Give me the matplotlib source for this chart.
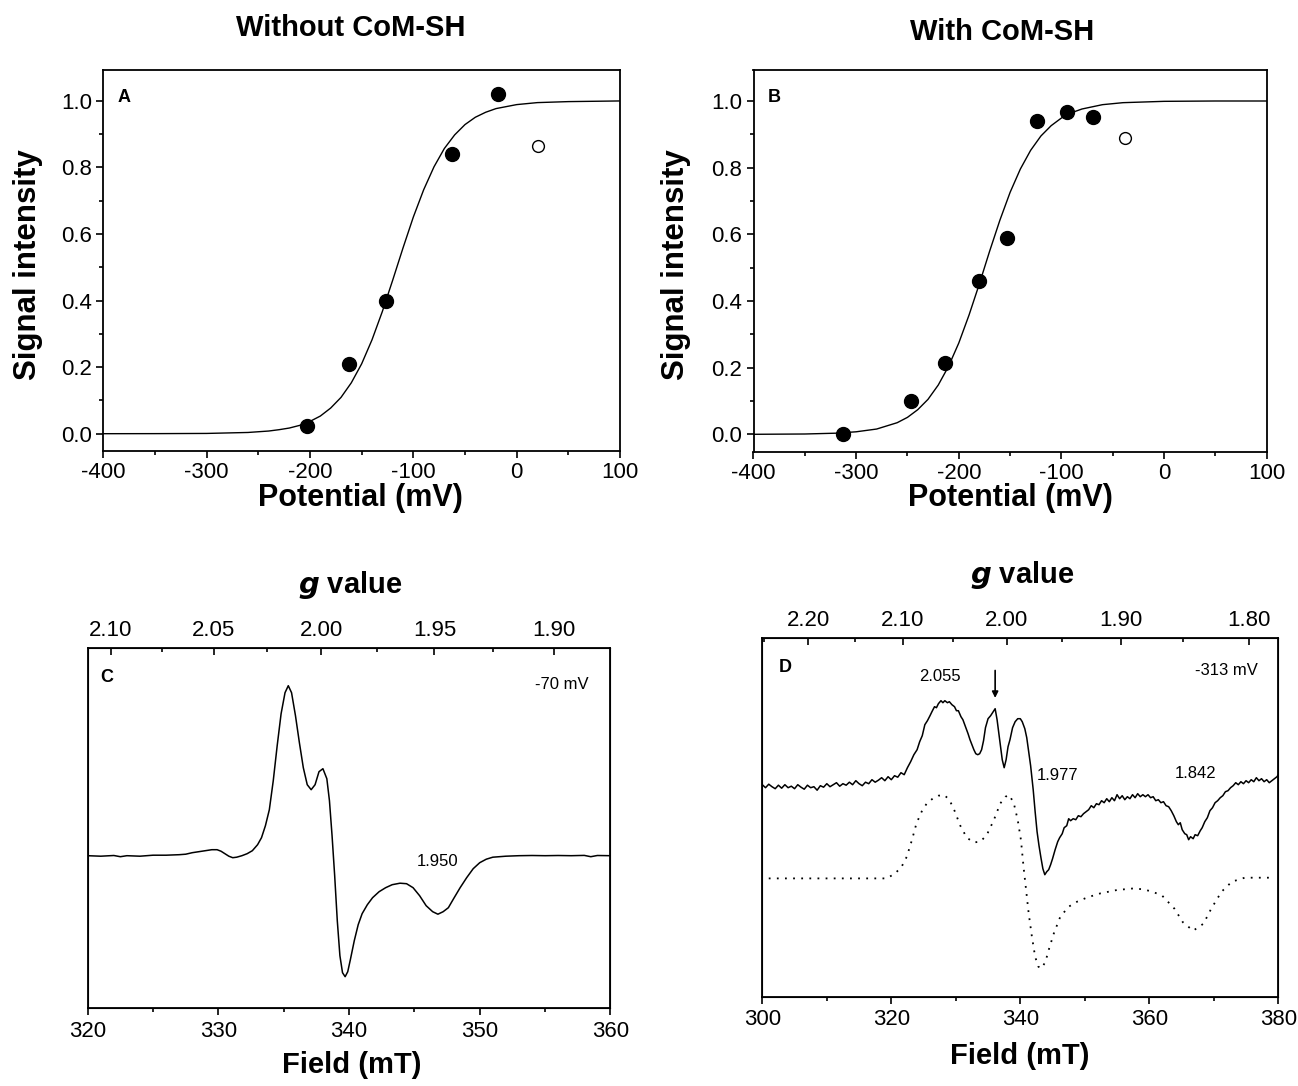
import numpy as np
import matplotlib
matplotlib.use("Agg")
import matplotlib.pyplot as plt
from matplotlib.ticker import MultipleLocator, FixedLocator

plt.rcParams['font.family'] = ['Liberation Sans', 'DejaVu Sans']
plt.rcParams['axes.unicode_minus'] = False

W, H = 1298, 1086

# ---- redox titration data ----
a_pot = [-203, -162, -126, -63, -18]
a_sig = [0.024, 0.21, 0.40, 0.84, 1.02]
a_open_pot = [21]
a_open_sig = [0.864]
a_fit_pot = [-400, -350, -300, -260, -240, -230, -220, -210, -200, -190, -180, -170, -160,
             -150, -140, -130, -120, -110, -100, -90, -80, -70, -60, -50, -40, -30, -20,
             0, 20, 50, 100]
a_fit_sig = [0.0, 0.0002, 0.0008, 0.0037, 0.008, 0.012, 0.017, 0.025, 0.037, 0.053, 0.077,
             0.109, 0.153, 0.21, 0.282, 0.367, 0.461, 0.558, 0.651, 0.733, 0.802, 0.857,
             0.898, 0.929, 0.951, 0.966, 0.977, 0.989, 0.995, 0.998, 1.0]

b_pot = [-313, -247, -213, -180, -153, -124, -95, -69]
b_sig = [0.0, 0.099, 0.215, 0.46, 0.59, 0.94, 0.968, 0.953]
b_open_pot = [-38]
b_open_sig = [0.89]
b_fit_pot = [-400, -350, -320, -300, -280, -260, -250, -240, -230, -220, -210, -200, -190,
             -180, -170, -160, -150, -140, -130, -120, -110, -100, -90, -80, -60, -40, 0,
             50, 100]
b_fit_sig = [0.0002, 0.0011, 0.0035, 0.0077, 0.016, 0.035, 0.051, 0.074, 0.105, 0.148,
             0.204, 0.274, 0.358, 0.451, 0.549, 0.642, 0.726, 0.796, 0.852, 0.895, 0.926,
             0.949, 0.965, 0.976, 0.989, 0.995, 0.999, 1.0, 1.0]

# ---- EPR spectra (arbitrary units) ----
c_field = [320.0, 321.0, 322.0, 322.5, 323.0, 324.0, 325.0, 326.0, 327.0, 327.5, 328.0, 328.5,
           329.0, 329.5, 329.9, 330.2, 330.5, 330.8, 331.1, 331.4, 331.8, 332.2, 332.6, 333.0,
           333.3, 333.6, 333.9, 334.2, 334.5, 334.8, 335.1, 335.35, 335.6, 335.9, 336.2, 336.5,
           336.8, 337.1, 337.4, 337.7, 338.0, 338.3, 338.5, 338.7, 338.9, 339.1, 339.3, 339.5,
           339.7, 339.9, 340.1, 340.4, 340.7, 341.0, 341.4, 341.8, 342.3, 342.8, 343.3, 343.9,
           344.4, 344.9, 345.4, 345.9, 346.4, 346.8, 347.2, 347.6, 348.0, 348.5, 349.0, 349.5,
           350.0, 350.5, 351.0, 352.0, 353.0, 354.0, 355.0, 356.0, 357.0, 358.0, 358.5, 359.0,
           360.0]
c_sig = [0.0, -0.05, 0.02, -0.1, 0.0, -0.05, 0.05, 0.05, 0.1, 0.15, 0.3, 0.4,
         0.5, 0.6, 0.6, 0.45, 0.2, -0.05, -0.2, -0.15, 0.0, 0.2, 0.5, 1.1,
         1.8, 3.0, 4.6, 7.5, 11.0, 14.2, 16.3, 17.0, 16.3, 14.0, 11.3, 8.8,
         7.1, 6.6, 7.1, 8.4, 8.7, 7.7, 5.5, 2.0, -2.0, -6.5, -10.0, -11.7,
         -12.1, -11.6, -10.4, -8.5, -6.9, -5.8, -4.9, -4.2, -3.6, -3.2, -2.9, -2.75,
         -2.8, -3.2, -4.0, -5.0, -5.6, -5.85, -5.6, -5.2, -4.3, -3.2, -2.2, -1.3,
         -0.7, -0.35, -0.15, -0.05, 0.0, 0.02, 0.0, 0.02, 0.0, 0.03, -0.1, 0.02,
         0.0]

d_field = [300.0, 300.5, 301.0, 301.5, 302.0, 302.5, 303.0, 303.5, 304.0, 304.5, 305.0, 305.5,
           306.0, 306.5, 307.0, 307.5, 308.0, 308.5, 309.0, 309.5, 310.0, 310.5, 311.0, 311.5,
           312.0, 312.5, 313.0, 313.5, 314.0, 314.5, 315.0, 315.5, 316.0, 316.5, 317.0, 317.5,
           318.0, 318.5, 319.0, 319.5, 320.0, 320.5, 321.0, 321.5, 322.0, 322.5, 323.0, 323.5,
           324.0, 324.4, 324.8, 325.2, 325.6, 326.0, 326.3, 326.7, 327.0, 327.3, 327.7, 328.0,
           328.3, 328.7, 329.0, 329.4, 329.8, 330.1, 330.4, 330.8, 331.1, 331.5, 331.9, 332.2,
           332.5, 332.8, 333.1, 333.4, 333.7, 334.0, 334.3, 334.6, 335.0, 335.4, 335.8, 336.1,
           336.4, 336.8, 337.2, 337.5, 337.8, 338.1, 338.4, 338.8, 339.2, 339.6, 340.0, 340.3,
           340.7, 341.0, 341.3, 341.6, 342.0, 342.3, 342.6, 342.9, 343.2, 343.5, 343.8, 344.1,
           344.4, 344.7, 345.0, 345.4, 345.8, 346.1, 346.5, 346.8, 347.2, 347.5, 347.8, 348.2,
           348.6, 349.0, 349.4, 349.8, 350.2, 350.6, 351.0, 351.4, 351.8, 352.2, 352.6, 353.0,
           353.4, 353.8, 354.2, 354.6, 355.0, 355.4, 355.8, 356.2, 356.6, 357.0, 357.4, 357.8,
           358.2, 358.6, 359.0, 359.4, 359.8, 360.2, 360.6, 361.0, 361.4, 361.8, 362.2, 362.6,
           363.0, 363.4, 363.8, 364.2, 364.5, 364.8, 365.1, 365.5, 365.8, 366.1, 366.4, 366.8,
           367.1, 367.5, 367.9, 368.2, 368.6, 369.0, 369.4, 369.8, 370.2, 370.6, 371.0, 371.4,
           371.8, 372.2, 372.6, 373.0, 373.4, 373.8, 374.2, 374.6, 375.0, 375.4, 375.8, 376.2,
           376.6, 377.0, 377.4, 377.8, 378.2, 378.6, 379.0, 379.4, 379.8, 380.0]
d_sig = [0.1, -0.2, 0.15, -0.1, -0.3, 0.05, -0.25, 0.1, -0.2, -0.05, -0.3, 0.1,
         -0.15, -0.35, 0.05, -0.2, -0.1, -0.45, 0.0, -0.15, 0.2, -0.1, 0.1, 0.3,
         -0.05, 0.2, 0.05, 0.35, 0.1, 0.5, 0.2, 0.0, 0.35, 0.2, 0.6, 0.35,
         0.55, 0.8, 0.5, 0.9, 0.6, 1.0, 0.85, 1.3, 1.1, 1.8, 2.4, 3.1,
         3.6, 4.4, 5.0, 6.1, 6.5, 7.0, 7.4, 7.9, 7.8, 8.2, 8.5, 8.3,
         8.5, 8.3, 8.4, 8.1, 7.9, 7.5, 7.5, 6.9, 6.6, 5.9, 5.2, 4.6,
         4.1, 3.6, 3.2, 3.1, 3.2, 3.6, 4.5, 5.8, 6.7, 7.0, 7.4, 7.7,
         6.6, 4.6, 2.6, 1.8, 2.6, 3.9, 4.6, 5.8, 6.4, 6.7, 6.7, 6.4,
         5.7, 4.8, 3.4, 2.0, -0.4, -2.6, -4.6, -6.0, -7.2, -8.3, -8.9, -8.6,
         -8.4, -7.9, -7.3, -6.4, -5.6, -5.2, -4.8, -4.2, -4.0, -3.3, -3.5, -3.3,
         -3.4, -3.0, -3.1, -2.8, -2.6, -2.4, -2.0, -2.2, -1.8, -1.9, -1.5, -1.7,
         -1.3, -1.6, -1.2, -1.5, -0.9, -1.3, -1.0, -1.4, -1.1, -1.3, -0.9, -1.2,
         -0.8, -1.1, -0.9, -1.1, -0.9, -1.2, -1.1, -1.5, -1.4, -1.7, -1.6, -2.0,
         -2.1, -2.5, -3.0, -3.6, -3.9, -3.7, -4.4, -4.8, -4.9, -5.4, -5.1, -5.3,
         -4.9, -5.0, -4.5, -4.2, -3.6, -3.2, -2.5, -2.2, -1.7, -1.5, -1.2, -1.0,
         -0.6, -0.5, -0.2, 0.0, 0.3, 0.1, 0.4, 0.2, 0.5, 0.3, 0.6, 0.4,
         0.8, 0.5, 0.7, 0.4, 0.6, 0.3, 0.5, 0.7, 0.9, 1.1]

d_sim_field = [301.0, 305.0, 310.0, 315.0, 319.3, 320.6, 321.6, 322.4, 323.2, 323.9, 324.7,
               325.5, 326.4, 327.3, 328.2, 329.0, 329.8, 330.7, 331.7, 332.8, 333.8, 334.8,
               335.9, 336.9, 337.7, 338.3, 339.0, 339.6, 340.1, 340.5, 340.9, 341.3, 341.8,
               342.3, 342.8, 343.3, 343.9, 344.4, 345.2, 346.2, 347.5, 348.8, 350.4, 352.4,
               355.0, 357.6, 359.1, 360.5, 362.0, 363.9, 365.2, 366.8, 368.4, 369.6, 371.2,
               372.8, 374.8, 377.3, 379.0]
d_sim = [-9.27, -9.27, -9.27, -9.27, -9.27, -8.77, -8.1, -7.1, -5.43, -3.77, -2.6,
         -1.77, -1.3, -1.0, -0.93, -1.4, -2.5, -4.0, -5.2, -5.67, -5.6, -4.93,
         -3.43, -1.77, -1.1, -0.93, -1.77, -3.43, -5.43, -8.1, -10.43, -12.77, -15.1,
         -17.1, -18.1, -18.27, -17.6, -16.43, -14.77, -13.1, -12.1, -11.6, -11.17, -10.77,
         -10.43, -10.27, -10.37, -10.6, -11.0, -12.3, -13.65, -14.5, -13.8, -12.3, -10.6,
         -9.6, -9.2, -9.2, -9.2]

G_CONST = 675.75  # g * B(mT) for 9.458 GHz


def fig_ax(left, top, right, bottom):
    return fig.add_axes([left / W, 1 - bottom / H, (right - left) / W, (bottom - top) / H])


fig = plt.figure(figsize=(W / 100, H / 100), dpi=100)

TICK_FS = 16
LAB_FS = 22

for pos, pot, sig, opot, osig, fpot, fsig, letter in [
        ((103.3, 70, 620, 451), a_pot, a_sig, a_open_pot, a_open_sig, a_fit_pot, a_fit_sig, 'A'),
        ((753.5, 70, 1266.7, 451.7), b_pot, b_sig, b_open_pot, b_open_sig, b_fit_pot, b_fit_sig, 'B')]:
    ax = fig_ax(*pos)
    ax.plot(fpot, fsig, color='black', lw=1.0)
    ax.plot(pot, sig, 'o', color='black', ms=10)
    ax.plot(opot, osig, 'o', mfc='white', mec='black', mew=1.0, ms=8.5)
    ax.set_xlim(-400, 100)
    ax.set_ylim(-0.052, 1.093)
    ax.xaxis.set_major_locator(MultipleLocator(100))
    ax.xaxis.set_minor_locator(MultipleLocator(50))
    ax.yaxis.set_major_locator(MultipleLocator(0.2))
    ax.yaxis.set_minor_locator(MultipleLocator(0.1))
    ax.yaxis.set_major_formatter(matplotlib.ticker.FormatStrFormatter('%.1f'))
    ax.tick_params(which='major', direction='out', length=5, width=1.2, labelsize=TICK_FS, pad=3)
    ax.tick_params(which='minor', direction='out', length=3, width=1.2)
    for s in ax.spines.values():
        s.set_linewidth(1.3)
    ax.text(0.041, 0.929, letter, transform=ax.transAxes, fontsize=13, fontweight='bold',
            ha='center', va='center')

fig.text(351 / W, 1 - 28 / H, 'Without CoM-SH', fontsize=21, fontweight='bold', ha='center', va='center')
fig.text(1002 / W, 1 - 32 / H, 'With CoM-SH', fontsize=21, fontweight='bold', ha='center', va='center')
for x in (28, 676):
    fig.text(x / W, 1 - 265 / H, 'Signal intensity', fontsize=LAB_FS + 0.5, fontweight='bold',
             rotation=90, ha='center', va='center')
for x in (360, 1010):
    fig.text(x / W, 1 - 498 / H, 'Potential (mV)', fontsize=LAB_FS, fontweight='bold',
             ha='center', va='center')


def epr_axes(pos, xlim, ylim, g_major, g_minor, xmajor, xminor):
    ax = fig_ax(*pos)
    ax.set_xlim(*xlim)
    ax.set_ylim(*ylim)
    ax.set_yticks([])
    ax.xaxis.set_major_locator(MultipleLocator(xmajor))
    ax.xaxis.set_minor_locator(MultipleLocator(xminor))
    ax.tick_params(which='major', direction='out', length=5, width=1.2, labelsize=TICK_FS, pad=4)
    ax.tick_params(which='minor', direction='out', length=3, width=1.2)
    for s in ax.spines.values():
        s.set_linewidth(1.3)
    top = ax.twiny()
    top.set_xlim(*xlim)
    top.xaxis.set_major_locator(FixedLocator([G_CONST / g for g in g_major]))
    top.xaxis.set_minor_locator(FixedLocator([G_CONST / g for g in g_minor]))
    top.set_xticklabels(['%.2f' % g for g in g_major])
    top.tick_params(which='major', direction='in', length=5, width=1.2, labelsize=TICK_FS, pad=5)
    top.tick_params(which='minor', direction='in', length=3, width=1.2)
    return ax


axc = epr_axes((87.7, 647.7, 610.4, 1008.3), (320, 360), (-15.26, 20.8),
               [2.10, 2.05, 2.00, 1.95, 1.90], [2.075, 2.025, 1.975, 1.925], 10, 5)
axc.plot(c_field, c_sig, color='black', lw=1.1)
axc.text(0.037, 0.916, 'C', transform=axc.transAxes, fontsize=13, fontweight='bold',
         ha='center', va='center')
axc.text(0.907, 0.899, '-70 mV', transform=axc.transAxes, fontsize=12, ha='center', va='center')
axc.text(346.8, -0.63, '1.950', fontsize=12, ha='center', va='center')

axd = epr_axes((762.3, 637.7, 1278.3, 996.7), (300, 380), (-21.1, 14.8),
               [2.20, 2.10, 2.00, 1.90, 1.80], [2.25, 2.15, 2.05, 1.95, 1.85], 20, 10)
axd.plot(d_field, d_sig, color='black', lw=1.1)
axd.plot(d_sim_field, d_sim, color='black', lw=1.3, ls=(0, (1, 3.5)))
axd.text(0.045, 0.916, 'D', transform=axd.transAxes, fontsize=13, fontweight='bold',
         ha='center', va='center')
axd.text(0.899, 0.91, '-313 mV', transform=axd.transAxes, fontsize=12, ha='center', va='center')
axd.text(327.6, 10.97, '2.055', fontsize=12, ha='center', va='center')
axd.text(345.8, 1.07, '1.977', fontsize=12, ha='center', va='center')
axd.text(367.1, 1.27, '1.842', fontsize=12, ha='center', va='center')
axd.annotate('', xy=(336.1, 8.5), xytext=(336.1, 11.8),
             arrowprops=dict(arrowstyle='-|>', color='black', lw=1.2, mutation_scale=9))

fig.text(350 / W, 1 - 585 / H, r'$\bfit{g}$ value', fontsize=LAB_FS - 1, fontweight='bold',
         ha='center', va='center')
fig.text(1022 / W, 1 - 575 / H, r'$\bfit{g}$ value', fontsize=LAB_FS - 1, fontweight='bold',
         ha='center', va='center')
fig.text(352 / W, 1 - 1065 / H, 'Field (mT)', fontsize=LAB_FS - 1, fontweight='bold',
         ha='center', va='center')
fig.text(1020 / W, 1 - 1056 / H, 'Field (mT)', fontsize=LAB_FS - 1, fontweight='bold',
         ha='center', va='center')

fig.savefig('out.png', dpi=100)
